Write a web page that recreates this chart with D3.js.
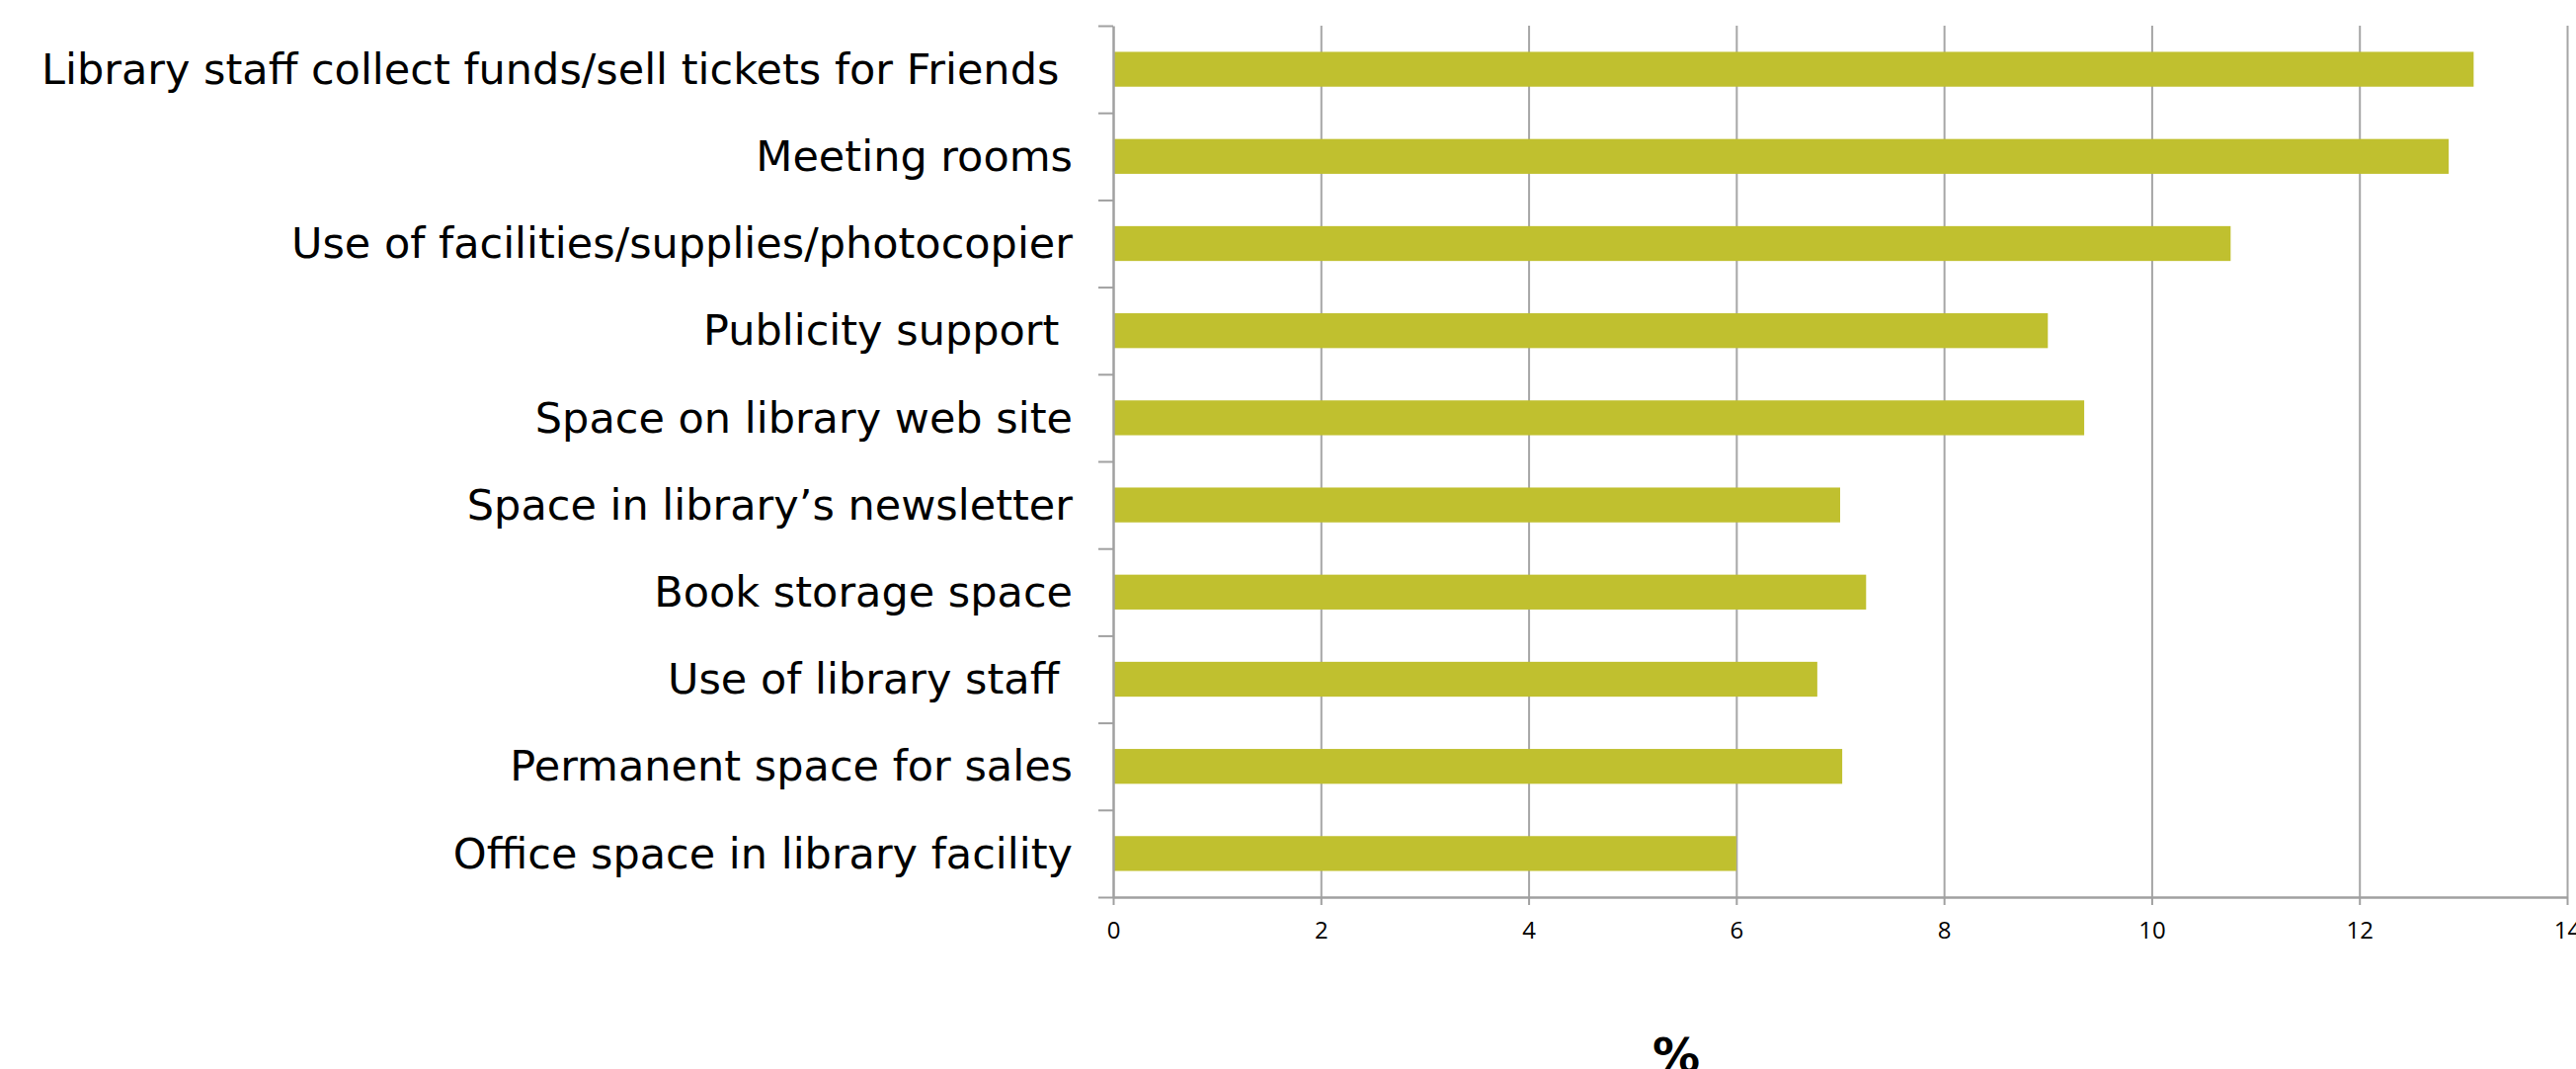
<!DOCTYPE html>
<html>
<head>
<meta charset="utf-8">
<script src="https://cdn.jsdelivr.net/npm/d3@7"></script>
<style>
  html, body { margin: 0; padding: 0; background: #ffffff; }
  svg { display: block; }
  .cat { white-space: pre; }
</style>
</head>
<body>
<svg id="chart" width="2608" height="1082"></svg>
<script>
// Categories, top to bottom (trailing spaces kept as in the source)
const categories = [
  "Library staff collect funds/sell tickets for Friends ",
  "Meeting rooms",
  "Use of facilities/supplies/photocopier",
  "Publicity support ",
  "Space on library web site",
  "Space in library\u2019s newsletter",
  "Book storage space",
  "Use of library staff ",
  "Permanent space for sales",
  "Office space in library facility"
];
// Percentages
const values = [13.1, 12.86, 10.76, 9.0, 9.35, 7.0, 7.25, 6.78, 7.02, 6.0];
const xTicks = [0, 2, 4, 6, 8, 10, 12, 14];
const xTitle = "%";

// -- Layout -- //
const plot = { left: 1127, right: 2599, top: 26, bottom: 908 };
const colours = { bar: "#c0c02f", axis: "#a0a0a0", grid: "#a6a6a6", text: "#000000" };

const svg = d3.select("#chart");

// Scales
const x = d3.scaleLinear().domain([0, 14]).range([plot.left, plot.right]);
const y = d3.scaleBand()
  .domain(categories)
  .range([plot.top, plot.bottom])
  .paddingInner(0.6)
  .paddingOuter(0.3);
// Linear helper for the category boundary ticks on the y axis
const yEdge = d3.scaleLinear().domain([0, categories.length]).range([plot.top, plot.bottom]);

// Vertical gridlines
svg.append("g")
  .attr("transform", `translate(0, ${plot.top})`)
  .call(d3.axisBottom(x).tickValues(xTicks.slice(1)).tickSize(plot.bottom - plot.top).tickFormat(""))
  .call(g => g.select(".domain").remove())
  .call(g => g.selectAll("line").attr("stroke", colours.grid).attr("stroke-width", 2));

// Bars
svg.append("g")
  .selectAll("rect")
  .data(values)
  .join("rect")
    .attr("x", x(0))
    .attr("y", (d, i) => y(categories[i]))
    .attr("width", d => x(d) - x(0))
    .attr("height", y.bandwidth())
    .attr("fill", colours.bar);

// X axis
const xAxis = svg.append("g")
  .attr("transform", `translate(0, ${plot.bottom})`)
  .call(d3.axisBottom(x).tickValues(xTicks).tickSize(8).tickPadding(17).tickSizeOuter(0));
xAxis.select(".domain").attr("stroke", colours.axis).attr("stroke-width", 2.5);
xAxis.selectAll("line").attr("stroke", colours.axis).attr("stroke-width", 2);
xAxis.selectAll("text")
  .attr("fill", colours.text)
  .attr("font-family", "'Open Sans', sans-serif")
  .attr("font-size", 24);

// Y axis (ticks at category boundaries, no labels)
const yAxis = svg.append("g")
  .attr("transform", `translate(${plot.left}, 0)`)
  .call(d3.axisLeft(yEdge).ticks(categories.length).tickSize(15).tickSizeOuter(0).tickFormat(""));
yAxis.select(".domain").attr("stroke", colours.axis).attr("stroke-width", 2.5);
yAxis.selectAll("line").attr("stroke", colours.axis).attr("stroke-width", 2);

// Category labels
svg.append("g")
  .selectAll("text")
  .data(categories)
  .join("text")
    .attr("class", "cat")
    .attr("x", 1086)
    .attr("y", d => y(d) + y.bandwidth() / 2)
    .attr("dy", "0.34em")
    .attr("text-anchor", "end")
    .attr("font-family", "'DejaVu Sans', Verdana, sans-serif")
    .attr("font-size", 43)
    .attr("fill", colours.text)
    .text(d => d);

// Axis title
svg.append("text")
  .attr("x", 1697)
  .attr("y", 1085)
  .attr("text-anchor", "middle")
  .attr("font-family", "'DejaVu Sans', sans-serif")
  .attr("font-weight", "bold")
  .attr("font-size", 48)
  .attr("fill", colours.text)
  .text(xTitle);
</script>
</body>
</html>
